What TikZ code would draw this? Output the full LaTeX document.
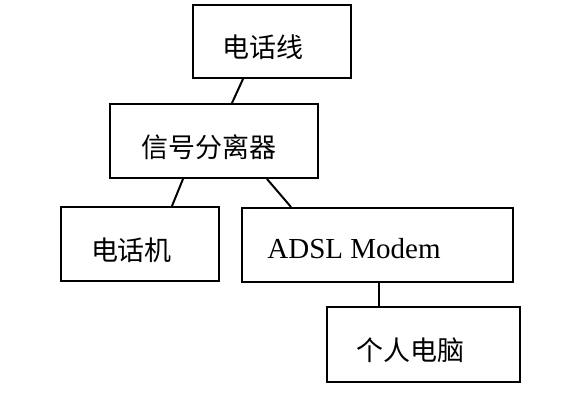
\documentclass[tikz,border=0pt]{standalone}
\usepackage{fontspec}
\setmainfont{Liberation Serif}
\newfontfamily\cjk{Noto Sans CJK SC}
\begin{document}
\begin{tikzpicture}[x=1pt,y=-1pt,
  box/.style={draw,line width=2pt,rectangle,inner sep=0pt},
  lbl/.style={inner sep=0pt,font=\cjk\fontsize{27}{30}\selectfont},
  conn/.style={line width=2pt}]
\useasboundingbox (0,0) rectangle (566,413);
\node[box,minimum width=158pt,minimum height=73pt] (tel) at (272,41.5) {};
\node[box,minimum width=208pt,minimum height=74pt] (split) at (214,141) {};
\node[box,minimum width=158pt,minimum height=74pt] (phone) at (140,244) {};
\node[box,minimum width=271pt,minimum height=74pt] (modem) at (377.5,245) {};
\node[box,minimum width=193pt,minimum height=75pt] (pc) at (423.5,344.5) {};
\node[lbl] (teltext) at (262.5,47) {电话线};
\node[lbl] (splittext) at (209,147) {信号分离器};
\node[lbl] (phonetext) at (131.5,250) {电话机};
\node[inner sep=0pt,anchor=base,font=\fontsize{29}{32}\selectfont] (modemtext) at (354,258) {ADSL Modem};
\node[lbl] (pctext) at (410.5,350) {个人电脑};
\draw[conn] ([xshift=-29pt]tel.south) -- ([xshift=18pt]split.north);
\draw[conn] ([xshift=-31pt]split.south) -- ([xshift=32pt]phone.north);
\draw[conn] ([xshift=53pt]split.south) -- ([xshift=-86.5pt]modem.north);
\draw[conn] ([xshift=1.5pt]modem.south) -- ([xshift=-44.5pt]pc.north);
\end{tikzpicture}
\end{document}
